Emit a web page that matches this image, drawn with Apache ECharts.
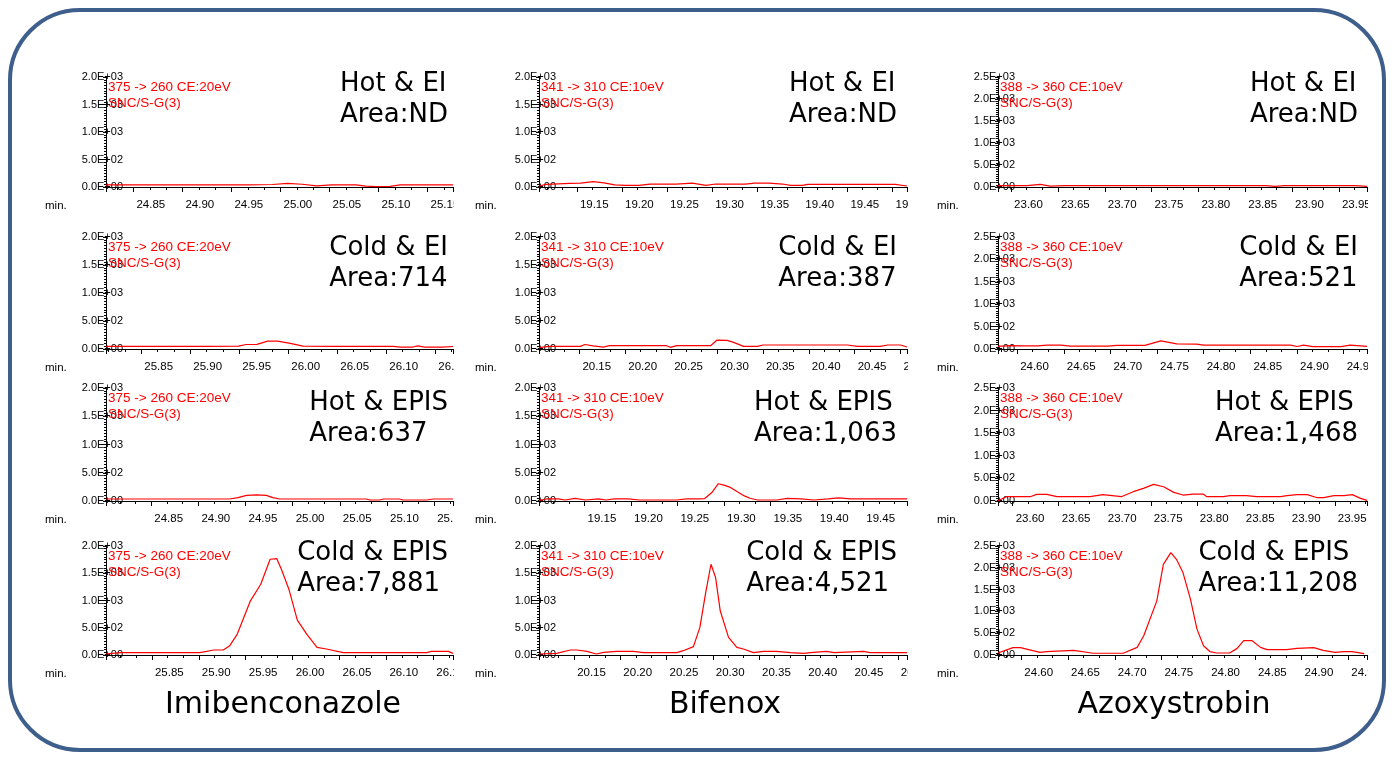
<!DOCTYPE html>
<html lang="en">
<head>
<meta charset="UTF-8">
<title>MRM chromatograms - Hot/Cold, EI/EPIS</title>
<script src="https://cdn.jsdelivr.net/npm/echarts@6.0.0/dist/echarts.min.js"></script>
<style>
    html, body {margin: 0; padding: 0; background: #fff;}
    #chart {width: 1394px; height: 760px;}
</style>
</head>
<body>
<div id="chart"></div>
<script>
// ---- labels ----
const compounds = ['Imibenconazole', 'Bifenox', 'Azoxystrobin'];
const conditions = ['Hot & EI', 'Cold & EI', 'Hot & EPIS', 'Cold & EPIS'];
const areas = [
    ['ND', '714', '637', '7,881'],
    ['ND', '387', '1,063', '4,521'],
    ['ND', '521', '1,468', '11,208']
];
const transitions = ['375 -> 260 CE:20eV', '341 -> 310 CE:10eV', '388 -> 360 CE:10eV'];
const filterName = 'SNC/S-G(3)';
const yMax = [2000, 2000, 2500];
const yStep = 500;

// ---- time window of each panel (min), [compound][condition] ----
const timeMin = [[24.822, 25.814, 24.802, 25.801], [19.108, 20.106, 19.101, 20.112], [23.586, 24.5795, 23.584, 24.575]];
const timeMax = [[25.176, 26.168, 25.170, 26.171], [19.516, 20.507, 19.497, 20.510], [23.980, 24.975, 23.985, 24.970]];

// ---- traces [time, intensity] ----
const imiHotEI = [[24.822,40],[24.847,40],[24.887,40],[24.927,40],[24.967,40],[24.992,45],[25.007,65],[25.022,50],[25.037,20],[25.052,40],[25.077,40],[25.087,15],[25.097,8],[25.112,10],[25.122,40],[25.147,40],[25.176,40]];
const imiColdEI = [[25.814,40],[25.817,47],[25.867,47],[25.917,47],[25.949,50],[25.957,80],[25.968,83],[25.979,140],[25.989,140],[26.002,100],[26.015,50],[26.047,47],[26.107,47],[26.114,35],[26.127,35],[26.132,55],[26.139,35],[26.157,35],[26.168,45]];
const imiHotEPIS = [[24.802,35],[24.867,35],[24.933,35],[24.942,60],[24.951,100],[24.962,110],[24.972,100],[24.979,60],[24.986,35],[25.078,35],[25.082,18],[25.092,18],[25.096,35],[25.113,35],[25.117,18],[25.142,18],[25.149,35],[25.170,35]];
const imiColdEPIS = [[25.801,18],[25.816,43],[25.901,43],[25.916,92],[25.926,92],[25.933,171],[25.941,384],[25.955,994],[25.966,1299],[25.976,1757],[25.983,1769],[25.988,1574],[25.996,1208],[26.005,640],[26.015,384],[26.026,140],[26.036,110],[26.054,43],[26.143,43],[26.148,67],[26.166,67],[26.171,30]];

const bifHotEI = [[19.108,18],[19.116,48],[19.142,66],[19.154,70],[19.168,96],[19.180,75],[19.192,40],[19.204,30],[19.219,30],[19.231,54],[19.260,54],[19.278,72],[19.293,30],[19.304,54],[19.337,54],[19.347,72],[19.363,72],[19.378,54],[19.387,30],[19.400,30],[19.406,48],[19.503,48],[19.516,18]];
const bifColdEI = [[20.106,24],[20.117,47],[20.151,47],[20.156,80],[20.165,55],[20.176,35],[20.183,59],[20.245,59],[20.249,30],[20.256,59],[20.293,59],[20.300,160],[20.311,155],[20.318,118],[20.329,47],[20.344,47],[20.350,71],[20.442,71],[20.453,47],[20.478,47],[20.486,71],[20.500,71],[20.507,35]];
const bifHotEPIS = [[19.101,12],[19.109,36],[19.122,36],[19.129,18],[19.140,48],[19.151,18],[19.165,36],[19.173,18],[19.182,36],[19.197,36],[19.209,18],[19.249,18],[19.260,36],[19.274,36],[19.279,40],[19.287,150],[19.294,306],[19.300,280],[19.307,240],[19.314,168],[19.322,90],[19.328,48],[19.336,18],[19.357,18],[19.368,48],[19.383,36],[19.397,18],[19.412,36],[19.423,54],[19.437,36],[19.497,36]];
const bifColdEPIS = [[20.112,18],[20.131,30],[20.146,92],[20.153,92],[20.164,67],[20.174,18],[20.182,49],[20.196,67],[20.214,67],[20.225,43],[20.261,43],[20.268,79],[20.279,153],[20.286,506],[20.292,1116],[20.298,1665],[20.303,1421],[20.308,811],[20.317,323],[20.326,140],[20.333,110],[20.344,43],[20.355,67],[20.369,67],[20.384,43],[20.398,30],[20.409,49],[20.423,67],[20.431,43],[20.463,67],[20.470,43],[20.510,43]];

const azoHotEI = [[23.586,30],[23.617,32],[23.631,60],[23.642,20],[23.657,32],[23.717,32],[23.817,32],[23.872,32],[23.882,12],[23.892,32],[23.967,32],[23.980,15]];
const azoColdEI = [[24.5795,60],[24.592,75],[24.607,70],[24.622,70],[24.632,85],[24.647,85],[24.657,65],[24.697,65],[24.707,80],[24.737,80],[24.754,180],[24.771,115],[24.792,110],[24.800,85],[24.893,85],[24.900,55],[24.907,85],[24.917,55],[24.947,55],[24.957,85],[24.975,60]];
const azoHotEPIS = [[23.584,7],[23.593,95],[23.619,95],[23.626,147],[23.637,147],[23.648,95],[23.684,95],[23.698,140],[23.718,95],[23.731,206],[23.742,279],[23.753,368],[23.764,316],[23.775,191],[23.785,132],[23.796,154],[23.807,154],[23.811,95],[23.829,95],[23.836,118],[23.854,118],[23.865,95],[23.891,95],[23.898,118],[23.909,140],[23.920,140],[23.931,73],[23.938,73],[23.949,118],[23.960,118],[23.969,140],[23.978,59],[23.985,15]];
const azoColdEPIS = [[24.575,46],[24.591,168],[24.599,168],[24.620,61],[24.627,76],[24.638,91],[24.656,107],[24.677,40],[24.709,40],[24.724,175],[24.731,442],[24.745,1242],[24.752,2080],[24.760,2347],[24.766,2195],[24.773,1890],[24.781,1280],[24.788,594],[24.795,213],[24.802,76],[24.809,46],[24.823,46],[24.831,152],[24.838,328],[24.847,328],[24.856,175],[24.863,122],[24.884,122],[24.895,152],[24.913,168],[24.923,107],[24.936,61],[24.945,76],[24.954,76],[24.967,30]];

const traces = [
    [imiHotEI, imiColdEI, imiHotEPIS, imiColdEPIS],
    [bifHotEI, bifColdEI, bifHotEPIS, bifColdEPIS],
    [azoHotEI, azoColdEI, azoHotEPIS, azoColdEPIS]
];

// ---- layout ----
const W = 1394, H = 760;
const colLeft = [106, 539, 998];
const colRight = [453, 907, 1367];
const maskRight = [537, 996, 1380];   // tick labels are cut off at the plot's right edge
const noteRight = [448, 897, 1358];
const minLeft = [45, 475, 937];
const nameCenter = [283, 725, 1174];
const rowTop = [77, 237, 388, 546];
const rowBottom = [187, 349, 501, 655];
const noteTop = [69, 233, 388, 538];

function sci(v) {
    if (v === 0) return '0.0E+00';
    let e = Math.floor(Math.log10(v) + 1e-9);
    let m = v / Math.pow(10, e);
    return m.toFixed(1) + 'E+' + String(e).padStart(2, '0');
}

let grids = [], xAxes = [], yAxes = [], series = [], titles = [], masks = [];
const black = {color: '#000', width: 1};

for (let c = 0; c < 3; c++) {
    for (let r = 0; r < 4; r++) {
        let i = grids.length;
        let tMin = timeMin[c][r], tMax = timeMax[c][r];
        grids.push({
            left: colLeft[c], top: rowTop[r],
            width: colRight[c] - colLeft[c], height: rowBottom[r] - rowTop[r],
            outerBoundsMode: 'none', containLabel: false
        });
        xAxes.push({
            type: 'value', gridIndex: i, min: tMin, max: tMax,
            splitNumber: Math.round((tMax - tMin) / 0.05),
            axisLine: {show: true, onZero: false, lineStyle: black},
            axisTick: {show: true, length: 5, lineStyle: black},
            minorTick: {show: true, splitNumber: 3, length: 3, lineStyle: black},
            splitLine: {show: false},
            axisLabel: {
                color: '#000', fontSize: 11.5, fontFamily: 'Liberation Sans, Arial, sans-serif',
                margin: 12, align: 'left', padding: [0, 0, 0, 3],
                showMinLabel: false, showMaxLabel: false,
                formatter: v => v.toFixed(2)
            }
        });
        yAxes.push({
            type: 'value', gridIndex: i, min: 0, max: yMax[c], interval: yStep,
            axisLine: {show: true, lineStyle: black},
            axisTick: {show: true, length: 3, lineStyle: black},
            minorTick: {show: true, splitNumber: 10, length: 2, lineStyle: black},
            splitLine: {show: false},
            axisLabel: {
                color: '#000', fontSize: 11, fontFamily: 'Liberation Sans, Arial, sans-serif',
                margin: -17, showMinLabel: true, showMaxLabel: true,
                formatter: sci
            }
        });
        series.push({
            type: 'line', xAxisIndex: i, yAxisIndex: i, data: traces[c][r],
            showSymbol: false, symbol: 'none', smooth: false, silent: true,
            lineStyle: {color: '#ff0000', width: 1.2}, itemStyle: {color: '#ff0000'}
        });
        // red method header
        titles.push({
            text: transitions[c] + '\n' + filterName,
            left: colLeft[c] + 2, top: rowTop[r] + 2, padding: 0, textAlign: 'left',
            textStyle: {color: '#ff0000', fontSize: 13.5, fontWeight: 'normal', lineHeight: 16.5,
                fontFamily: 'Liberation Sans, Arial, sans-serif'}
        });
        // condition / area note
        titles.push({
            text: conditions[r] + '\nArea:' + areas[c][r],
            right: W - noteRight[c], top: noteTop[r], padding: 0, textAlign: 'left',
            textStyle: {color: '#000', fontSize: 26, fontWeight: 'normal', lineHeight: 31,
                fontFamily: 'DejaVu Sans, sans-serif'}
        });
        titles.push({
            text: 'min.', left: minLeft[c], top: rowBottom[r] + 13, padding: 0, textAlign: 'left',
            textStyle: {color: '#000', fontSize: 11.5, fontWeight: 'normal',
                fontFamily: 'Liberation Sans, Arial, sans-serif'}
        });
        // white strip that cuts the tick labels at the plot's right edge
        masks.push({
            type: 'rect', silent: true, z: 5,
            shape: {x: colRight[c] + 1, y: rowBottom[r] + 7, width: maskRight[c] - colRight[c] - 1, height: 18},
            style: {fill: '#fff', stroke: null}
        });
    }
    titles.push({
        text: compounds[c], left: nameCenter[c], top: 690, padding: 0, textAlign: 'center',
        textStyle: {color: '#000', fontSize: 30, fontWeight: 'normal', fontFamily: 'DejaVu Sans, sans-serif'}
    });
}

let myChart = echarts.init(document.getElementById('chart'), null, {renderer: 'canvas'});
myChart.setOption({
    animation: false,
    backgroundColor: '#fff',
    title: titles,
    grid: grids,
    xAxis: xAxes,
    yAxis: yAxes,
    series: series,
    graphic: [{
        type: 'rect', silent: true, z: -1,
        shape: {x: 10, y: 10, width: 1374, height: 740, r: 70},
        style: {fill: 'none', stroke: '#3e5f8b', lineWidth: 4}
    }].concat(masks)
});
</script>
</body>
</html>
